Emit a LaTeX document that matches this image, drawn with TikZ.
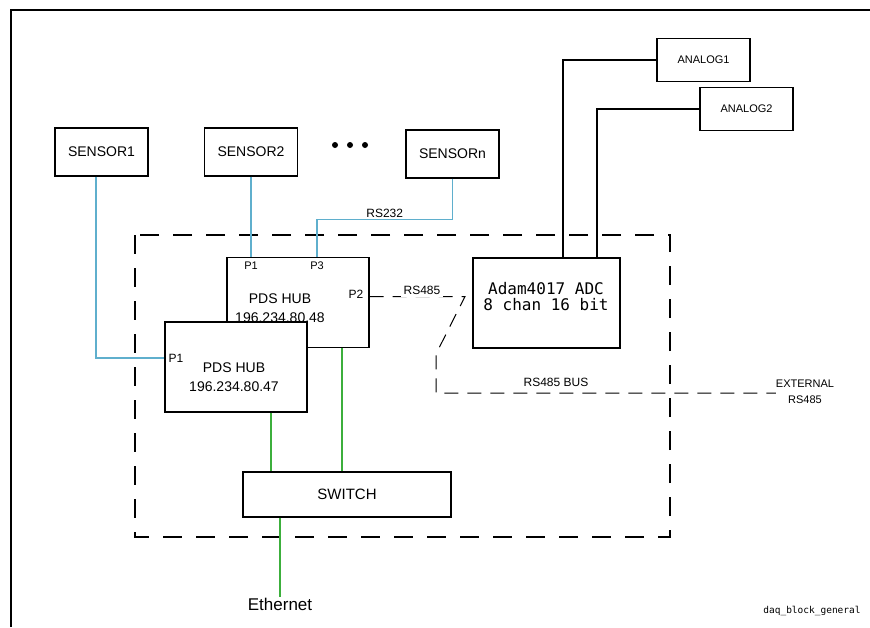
\documentclass[tikz,border=0pt]{standalone}
\usepackage{fontspec}
\setmainfont{Liberation Sans}
\setmonofont{DejaVu Sans Mono}
\usepackage{tikz}
\usetikzlibrary{positioning, calc}
\definecolor{rsblue}{RGB}{95,175,205}
\definecolor{lan}{RGB}{60,175,60}
\tikzstyle{unit} = [rectangle, draw=black, line width=1.4pt, fill=white, inner sep=0pt, text centered]
\tikzstyle{sensor} = [unit, minimum width=93pt, minimum height=48pt, font=\fontsize{14}{16}\selectfont]
\tikzstyle{analog} = [unit, minimum width=93pt, minimum height=43pt, font=\fontsize{11}{13}\selectfont]
\tikzstyle{hub} = [unit, minimum width=142pt, minimum height=90pt]
\tikzstyle{hubtext} = [align=center, inner sep=0pt, font=\fontsize{14}{19.5}\selectfont]
\tikzstyle{port} = [inner sep=0pt, font=\fontsize{11}{13}\selectfont]
\tikzstyle{tag} = [inner sep=0pt, font=\fontsize{12}{14}\selectfont]
\tikzstyle{serial} = [draw=rsblue, line width=1.1pt]
\tikzstyle{ethlink} = [draw=lan, line width=2pt]
\tikzstyle{busline} = [line width=1pt, dash pattern=on 14pt off 9pt]

\begin{document}
\begin{tikzpicture}[x=1pt, y=-1pt]
  \useasboundingbox (0,0) rectangle (870,627);
  % sheet frame
  \draw[line width=1.6pt] (11,627) -- (11,10) -- (870,10);

  % Enclosure
  \draw[line width=1.3pt, dash pattern=on 19pt off 14pt] (135,235) rectangle (670,537);

  % Sensors
  \node (sensor1) [sensor] at (101.5,152) {SENSOR1};
  \node (sensor2) [sensor] at (251,152) {SENSOR2};
  \node (sensorn) [sensor] at (452.5,154) {SENSORn};
  \foreach \x in {335,350,365} \fill (\x,145) circle (3pt);

  % Analog inputs
  \node (analog1) [analog] at (703.5,60) {ANALOG1};
  \node (analog2) [analog] at (746.5,109) {ANALOG2};

  % Hubs (second one drawn over the first)
  \node (hub48) [hub] at (298,302.5) {};
  \node (hub48txt) [hubtext] at (280,308) {PDS HUB\\196.234.80.48};
  \node (hub47) [hub] at (236,367) {};
  \node (hub47txt) [hubtext] at (234,377) {PDS HUB\\196.234.80.47};

  % Ports
  \node (p1top) [port] at (251,266) {P1};
  \node (p3) [port] at (317,266) {P3};
  \node (p2) [port, font=\fontsize{12}{14}\selectfont] at (356,294) {P2};
  \node (p1left) [port, font=\fontsize{12}{14}\selectfont] at (176,358) {P1};

  % ADC
  \node (adam) [unit, minimum width=147pt, minimum height=90pt] at (546.5,303) {};
  \node (adamtxt) [align=center, inner sep=0pt, font=\ttfamily\fontsize{16}{16}\selectfont] at (546,297) {Adam4017 ADC\\8 chan 16 bit};

  % Switch and uplink
  \node (switch) [unit, minimum width=208pt, minimum height=45pt, font=\fontsize{15}{17}\selectfont] at (347,494.5) {SWITCH};
  \node (eth) [inner sep=1pt, font=\fontsize{17}{19}\selectfont] at (280,604) {Ethernet};

  % Bus labels
  \node (busl) [tag] at (556,382) {RS485 BUS};
  \node (ext) [tag, align=center, font=\fontsize{11}{16}\selectfont] at (805,392) {EXTERNAL\\RS485};
  \node (sheet) [inner sep=0pt, font=\ttfamily\fontsize{9.5}{11}\selectfont] at (812,611) {daq\_block\_general};

  % RS232 links
  \draw[serial] ([xshift=-5.5pt]sensor1.south) |- ([yshift=9pt]hub47.west);
  \draw[serial] (sensor2.south) -- (sensor2.south |- hub48.north);
  \draw[serial] (sensorn.south) -- ++(0,41) -| ([xshift=19pt]hub48.north) node[pos=0.25, above=2pt, tag] {RS232};

  % Analog wires
  \draw[line width=1.4pt] ([xshift=16.5pt]adam.north) |- (analog1.west);
  \draw[line width=1.4pt] ([xshift=50.5pt]adam.north) |- (analog2.west);

  % RS485 bus
  \coordinate (rsturn) at (465,296.5);
  \coordinate (rsbend) at (436,354);
  \coordinate (buscorner) at (436,393);
  \draw[busline] ([yshift=6pt]hub48.east) -- (rsturn) -- (rsbend) -- (buscorner) -- (buscorner -| ext.west);
  \node (rs485) [tag, fill=white, inner sep=2.5pt] at (422,290) {RS485};

  % Ethernet links
  \draw[ethlink] ([xshift=35pt]hub47.south) -- ([xshift=35pt]hub47.south |- switch.north);
  \draw[ethlink] ([xshift=44pt]hub48.south) -- ([xshift=44pt]hub48.south |- switch.north);
  \draw[ethlink] (switch.south -| eth.north) -- (eth.north);
\end{tikzpicture}
\end{document}
